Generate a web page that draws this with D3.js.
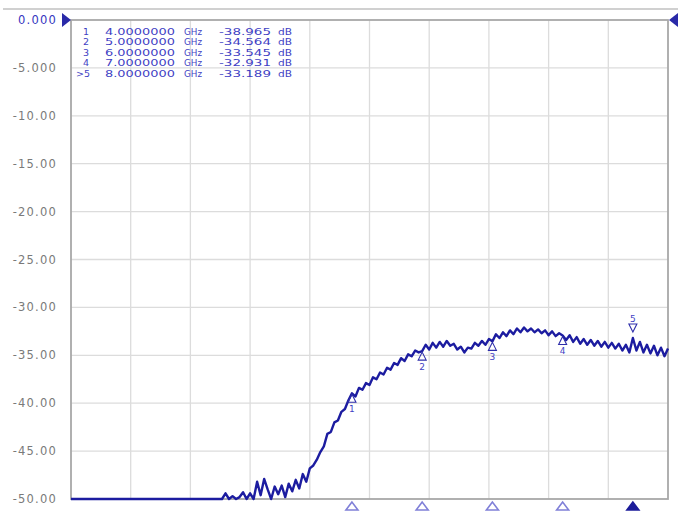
<!DOCTYPE html>
<html>
<head>
<meta charset="utf-8">
<script src="https://cdn.jsdelivr.net/npm/d3@7"></script>
<style>
  body { margin: 0; background: #fff; }
  svg { display: block; }
  .ylab { font-family: "DejaVu Sans", sans-serif; font-size: 11.5px; letter-spacing: 1.2px; fill: #7a7a7a; }
  .mk { font-family: "DejaVu Sans", sans-serif; font-size: 9.5px; fill: #3f3fc4; }
</style>
</head>
<body>
<div id="chart"></div>
<script>
// ============================================
// DATA
// ============================================

// sweep 0 .. 8.5 GHz, 0.05 GHz per point
const sweepStartGHz = 0;
const sweepStepGHz = 0.05;

// S21 trace in dB (clipped at the -50 dB floor)
const traceDb = [
  -50, -50, -50, -50, -50, -50, -50, -50, -50, -50,
  -50, -50, -50, -50, -50, -50, -50, -50, -50, -50,
  -50, -50, -50, -50, -50, -50, -50, -50, -50, -50,
  -50, -50, -50, -50, -50, -50, -50, -50, -50, -50,
  -50, -50, -50, -50, -49.4, -50, -49.7, -50, -49.8, -49.3,
  -50, -49.4, -50, -48.2, -49.6, -47.9, -49.0, -50, -48.7, -49.5,
  -48.6, -49.8, -48.4, -49.2, -48.0, -48.9, -47.4, -48.2, -46.8, -46.5,
  -45.9, -45.1, -44.5, -43.2, -43.0, -42.0, -41.8, -40.9, -40.6, -39.7,
  -38.965, -39.3, -38.4, -38.6, -37.9, -38.1, -37.3, -37.5, -36.8, -37.0,
  -36.3, -36.5, -35.8, -36.0, -35.3, -35.6, -34.9, -35.1, -34.5, -34.7,
  -34.564, -33.9, -34.4, -33.7, -34.2, -33.6, -34.1, -33.5, -34.0, -33.8,
  -34.4, -34.1, -34.7, -34.2, -34.3, -33.7, -34.0, -33.5, -33.9, -33.3,
  -33.545, -32.8, -33.2, -32.6, -33.0, -32.4, -32.8, -32.2, -32.6, -32.1,
  -32.5, -32.2, -32.6, -32.3, -32.7, -32.4, -32.9, -32.5, -33.0, -32.7,
  -32.931, -33.4, -32.9, -33.6, -33.1, -33.8, -33.3, -33.9, -33.4, -34.0,
  -33.5, -34.1, -33.6, -34.2, -33.7, -34.3, -33.8, -34.5, -33.9, -34.7,
  -33.189, -34.5, -33.6, -34.7, -33.9, -34.8, -34.0, -35.0, -34.2, -35.1,
  -34.3
];

// markers
const markerIds = ['1', '2', '3', '4', '>5'];
const markerGHz = [4, 5, 6, 7, 8];
const markerDb = [-38.965, -34.564, -33.545, -32.931, -33.189];
const markerFreqText = ['4.0000000', '5.0000000', '6.0000000', '7.0000000', '8.0000000'];
const markerDbText = ['-38.965', '-34.564', '-33.545', '-32.931', '-33.189'];

const yTickValues = [0, -5, -10, -15, -20, -25, -30, -35, -40, -45, -50];
const yTickLabels = ['0.000', '-5.000', '-10.00', '-15.00', '-20.00', '-25.00',
                     '-30.00', '-35.00', '-40.00', '-45.00', '-50.00'];
const xGridCount = 10;

// ============================================
// DIMENSIONS & SCALES
// ============================================

const W = 678, H = 512;
const plot = { left: 71, right: 668, top: 20, bottom: 499 };

const xScale = d3.scaleLinear().domain([0, 8.5]).range([plot.left, plot.right]);
const yScale = d3.scaleLinear().domain([-50, 0]).range([plot.bottom, plot.top]);
const gridX = d3.scaleLinear().domain([0, xGridCount]).range([plot.left, plot.right]);

const svg = d3.select('#chart').append('svg')
  .attr('width', W).attr('height', H);

// top strip line
svg.append('line')
  .attr('x1', 3).attr('x2', W).attr('y1', 9).attr('y2', 9)
  .attr('stroke', '#d0d0d0').attr('stroke-width', 2);

// ============================================
// GRID
// ============================================

svg.append('g')
  .selectAll('line')
  .data(d3.range(1, xGridCount))
  .join('line')
  .attr('x1', d => gridX(d)).attr('x2', d => gridX(d))
  .attr('y1', plot.top).attr('y2', plot.bottom)
  .attr('stroke', '#dcdcdc').attr('stroke-width', 1.3);

svg.append('g')
  .selectAll('line')
  .data(yTickValues.slice(1, -1))
  .join('line')
  .attr('x1', plot.left).attr('x2', plot.right)
  .attr('y1', d => yScale(d)).attr('y2', d => yScale(d))
  .attr('stroke', '#dcdcdc').attr('stroke-width', 1.3);

// frame
svg.append('rect')
  .attr('x', plot.left).attr('y', plot.top)
  .attr('width', plot.right - plot.left).attr('height', plot.bottom - plot.top)
  .attr('fill', 'none').attr('stroke', '#a8a8a8').attr('stroke-width', 1.8);

// y labels
svg.append('g')
  .selectAll('text')
  .data(yTickValues)
  .join('text')
  .attr('class', 'ylab')
  .attr('x', 57)
  .attr('y', d => yScale(d) + 4)
  .attr('text-anchor', 'end')
  .style('fill', (d, i) => i === 0 ? '#3535c0' : null)
  .text((d, i) => yTickLabels[i]);

// reference level arrows
svg.append('path')
  .attr('d', `M${plot.left - 9},${yScale(0) - 7} L${plot.left},${yScale(0)} L${plot.left - 9},${yScale(0) + 7} Z`)
  .attr('fill', '#2a2aa8');
svg.append('path')
  .attr('d', `M${W},${yScale(0) - 7} L${W - 9},${yScale(0)} L${W},${yScale(0) + 7} Z`)
  .attr('fill', '#2a2aa8');

// ============================================
// TRACE
// ============================================

const line = d3.line()
  .x((d, i) => xScale(sweepStartGHz + i * sweepStepGHz))
  .y(d => yScale(Math.max(-50, d)));

svg.append('path')
  .datum(traceDb)
  .attr('d', line)
  .attr('fill', 'none')
  .attr('stroke', '#1c1ca0')
  .attr('stroke-width', 2.4)
  .attr('stroke-linejoin', 'round');

// ============================================
// MARKERS
// ============================================

const mg = svg.append('g');
markerGHz.forEach((f, i) => {
  const x = xScale(f), y = yScale(markerDb[i]);
  const active = i === markerGHz.length - 1;
  const num = markerIds[i].replace('>', '');
  if (!active) {
    mg.append('path')
      .attr('d', `M${x},${y + 1} L${x - 4},${y + 9} L${x + 4},${y + 9} Z`)
      .attr('fill', 'none').attr('stroke', '#2e2eaa').attr('stroke-width', 1.1);
    mg.append('text').attr('class', 'mk')
      .attr('x', x).attr('y', y + 19).attr('text-anchor', 'middle')
      .style('font-size', '9px').text(num);
  } else {
    mg.append('path')
      .attr('d', `M${x},${y - 6} L${x - 4},${y - 14} L${x + 4},${y - 14} Z`)
      .attr('fill', 'none').attr('stroke', '#2e2eaa').attr('stroke-width', 1.1);
    mg.append('text').attr('class', 'mk')
      .attr('x', x).attr('y', y - 16).attr('text-anchor', 'middle')
      .style('font-size', '9px').text(num);
  }
  // bottom position triangles
  mg.append('path')
    .attr('d', `M${x},${plot.bottom + 3} L${x - 6},${plot.bottom + 11} L${x + 6},${plot.bottom + 11} Z`)
    .attr('fill', active ? '#1c1c9a' : 'none')
    .attr('stroke', active ? '#1c1c9a' : '#8080d8')
    .attr('stroke-width', 1.6);
});

// marker table
const table = svg.append('g');
markerIds.forEach((id, i) => {
  const y = 34.5 + i * 10.6;
  table.append('text').attr('class', 'mk').attr('x', id.length > 1 ? 76 : 83).attr('y', y).text(id);
  table.append('text').attr('class', 'mk').attr('x', 105).attr('y', y)
    .attr('textLength', 70).attr('lengthAdjust', 'spacingAndGlyphs').text(markerFreqText[i]);
  table.append('text').attr('class', 'mk').attr('x', 184).attr('y', y)
    .attr('textLength', 18).attr('lengthAdjust', 'spacingAndGlyphs').text('GHz');
  table.append('text').attr('class', 'mk').attr('x', 219).attr('y', y)
    .attr('textLength', 52).attr('lengthAdjust', 'spacingAndGlyphs').text(markerDbText[i]);
  table.append('text').attr('class', 'mk').attr('x', 278).attr('y', y)
    .attr('textLength', 14).attr('lengthAdjust', 'spacingAndGlyphs').text('dB');
});
</script>
</body>
</html>
